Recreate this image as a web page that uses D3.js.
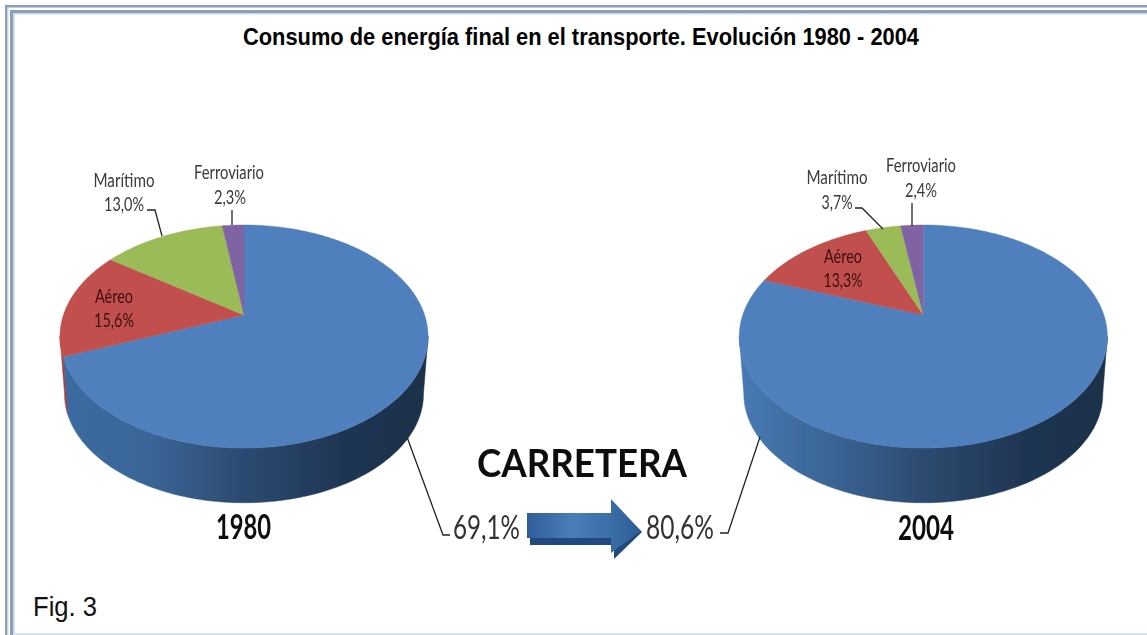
<!DOCTYPE html>
<html><head><meta charset="utf-8">
<script src="https://cdn.jsdelivr.net/npm/d3@7/dist/d3.min.js"></script>
<style>html,body{margin:0;padding:0;background:#fff;overflow:hidden}svg{display:block}</style>
</head><body>
<script>
const categories = ["Carretera", "Aéreo", "Marítimo", "Ferroviario"];
const values1980 = [69.1, 15.6, 13.0, 2.3];
const values2004 = [80.6, 13.3, 3.7, 2.4];
const sliceColors = ["#4f7fbc", "#c0504d", "#9bbb59", "#8064a2"];
const wallColors = ["#3a6ba3", "#a03f3d", "#7f9a49", "#65508a"];
const titleText = "Consumo de energía final en el transporte. Evolución 1980 - 2004";

const W = 1147, H = 635;
const svg = d3.select("body").append("svg").attr("width", W).attr("height", H);
const defs = svg.append("defs");
defs.append("filter").attr("id","soft").append("feGaussianBlur").attr("stdDeviation",0.45);

// Frame
const frame = svg.append("g");
[[5,5,W,2.5,"#8a9fba"],[5,5,2.5,H,"#8a9fba"],[10,10,W,3.5,"#8a9fba"],[10,10,3.5,H,"#8a9fba"],
 [13.5,13,1.5,H,"#d5deec"],[13,13.5,W,1,"#d5deec"],[7.5,7.5,1,H,"#cfd9e8"],[13,633,W,2,"#d9e1f0"]]
 .forEach(r=>frame.append("rect").attr("x",r[0]).attr("y",r[1]).attr("width",r[2]).attr("height",r[3]).attr("fill",r[4]));

const chart = svg.append("g").attr("filter","url(#soft)");
const pieGen = d3.pie().sort(null).startAngle(0).endAngle(2*Math.PI);
const line = d3.line();

function project(c, a, scale, dy){
  // a clockwise from 12 o'clock; perspective view of a flat disc
  const u = Math.sin(a), v = Math.cos(a), w = 1 + c.p*v;
  return [c.x + scale*c.s*u/w, c.y + dy - scale*c.k*v/w];
}
function arcPts(c, a0, a1, scale, dy){
  const n = Math.max(2, Math.ceil((a1-a0)/0.02));
  return d3.range(n+1).map(i=>project(c, a0+(a1-a0)*i/n, scale, dy));
}
function drawPie(id, values, c, stops){
  const g = chart.append("g");
  const arcs = pieGen(values);
  const grad = defs.append("linearGradient").attr("id",id).attr("gradientUnits","userSpaceOnUse")
    .attr("x1",c.x-184).attr("x2",c.x+184).attr("y1",0).attr("y2",0);
  stops.forEach(s=>grad.append("stop").attr("offset",s[0]).attr("stop-color",s[1]));
  const lo = 101*Math.PI/180, hi = 259*Math.PI/180;
  arcs.forEach((d,i)=>{
    const a0 = Math.max(d.startAngle, lo), a1 = Math.min(d.endAngle, hi);
    if (a1 <= a0) return;
    const top = arcPts(c,a0,a1,1,0), base = arcPts(c,a0,a1,c.baseScale,c.depth).reverse();
    g.append("path").attr("d", line(top.concat(base))+"Z")
      .attr("fill", i===0 ? `url(#${id})` : wallColors[i])
      .attr("stroke", i===0 ? `url(#${id})` : wallColors[i]).attr("stroke-width",0.5);
  });
  arcs.forEach((d,i)=>{
    const pts = [[c.x,c.y]].concat(arcPts(c,d.startAngle,d.endAngle,1,0));
    g.append("path").attr("d", line(pts)+"Z").attr("fill",sliceColors[i])
      .attr("stroke",sliceColors[i]).attr("stroke-width",0.4);
  });
}
const common = {y:315, s:180.6, k:107.4, p:0.193, baseScale:0.975, depth:58};
drawPie("wall1980", values1980, {...common, x:244},
  [[0,"#3a6ba3"],[0.25,"#3a6596"],[0.5,"#2c4a70"],[0.78,"#1e3553"],[1,"#1c3049"]]);
drawPie("wall2004", values2004, {...common, x:923.3},
  [[0,"#4779b4"],[0.25,"#3a6595"],[0.5,"#2d4a70"],[0.78,"#1f3552"],[1,"#1c3049"]]);

// Leader lines
const leaders = [
 [[232,210],[232,225]],
 [[147,210],[155,210],[162,236]],
 [[912,203],[912,226]],
 [[855,208],[862,208],[883,229]],
 [[407,437],[443,535],[450,535]],
 [[760,437],[728,533],[720,533]]
];
leaders.forEach(l=>chart.append("path").attr("d",line(l)).attr("fill","none")
  .attr("stroke","#222").attr("stroke-width",1.3));

// Arrow
const ag = defs.append("linearGradient").attr("id","arrowFill").attr("x1",0).attr("x2",1).attr("y1",0).attr("y2",0);
[[0,"#2f5f9a"],[0.4,"#4a7dba"],[0.75,"#3a6ca6"],[1,"#2c5d94"]].forEach(s=>ag.append("stop").attr("offset",s[0]).attr("stop-color",s[1]));
chart.append("path").attr("d","M530,520L614,520L614,505L642,532L614,559L614,545L530,545Z").attr("fill","#20497c");
chart.append("path").attr("d","M527,513L611,513L611,499L641,531L611,553L611,538L527,538Z").attr("fill","url(#arrowFill)");

// Text
function txt(s,x,y,size,opts={}){
  const t = chart.append("text").attr("x",x).attr("y",y).text(s)
   .attr("font-family",opts.family||"Lato, 'Open Sans', sans-serif")
   .attr("font-size",size).attr("font-weight",opts.weight||400)
   .attr("fill",opts.fill||"#3a3a3a").attr("text-anchor",opts.anchor||"middle");
  if(opts.len) t.attr("textLength",opts.len).attr("lengthAdjust","spacingAndGlyphs");
  return t;
}
const labels = [
 [categories[3],229,179,70],[values1980[3],230,204,32],
 [categories[2],124,187,61],[values1980[2],124,211,40],
 [categories[3],921,172,70],[values2004[3],921,197,32],
 [categories[2],837,184,61],[values2004[2],837,209,31]
];
const fmt = v => v.toFixed(1).replace(".",",")+"%";
labels.forEach(l=>txt(typeof l[0]==="number"?fmt(l[0]):l[0],l[1],l[2],19.5,{len:l[3]}));
[[categories[1],114,303,38],[values1980[1],114,327,40],[categories[1],843,263,38],[values2004[1],843,287,39]]
 .forEach(l=>txt(typeof l[0]==="number"?fmt(l[0]):l[0],l[1],l[2],19.5,{len:l[3],fill:"#3d0f10"}));

txt("CARRETERA",582,477,38,{weight:700,fill:"#0d0d0d",len:210});
txt("1980",243.5,539,34,{weight:700,fill:"#0d0d0d",len:55});
txt("2004",926,540,34,{weight:700,fill:"#0d0d0d",len:56});
txt(fmt(values1980[0]),486.5,539,32,{fill:"#333",len:67});
txt(fmt(values2004[0]),680,539,32,{fill:"#333",len:68});

svg.append("text").attr("x",581).attr("y",45).text(titleText).attr("text-anchor","middle")
  .attr("font-family","'Liberation Sans Narrow','Liberation Sans',sans-serif").attr("font-weight",700)
  .attr("font-size",23).attr("fill","#000").attr("textLength",676).attr("lengthAdjust","spacingAndGlyphs");
svg.append("text").attr("x",33).attr("y",616).text("Fig. 3").attr("font-family","'Liberation Sans',Arial,sans-serif")
  .attr("font-size",28).attr("fill","#111").attr("textLength",64).attr("lengthAdjust","spacingAndGlyphs");
</script>
</body></html>
